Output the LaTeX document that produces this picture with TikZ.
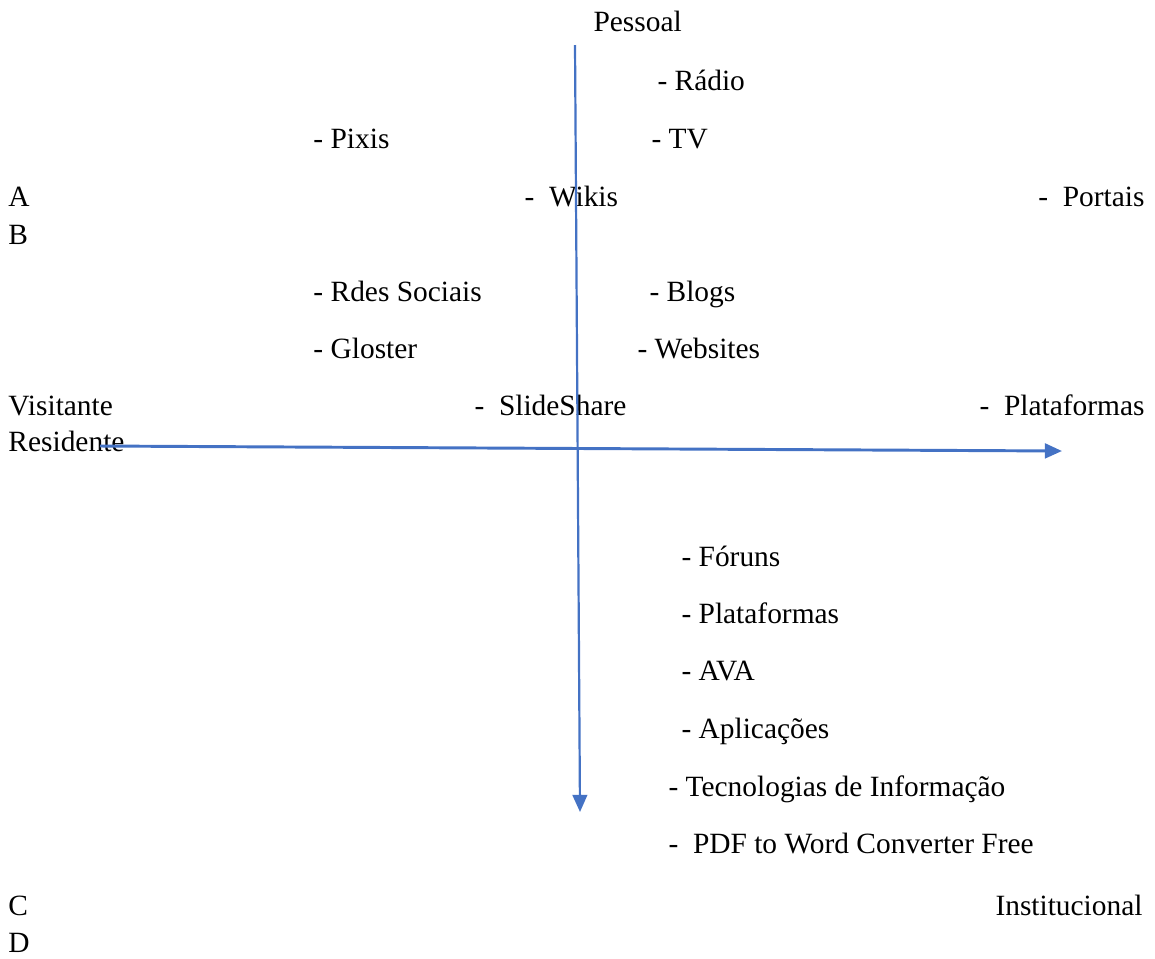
\documentclass[tikz,border=0pt]{standalone}
\usepackage{fontspec}
\setmainfont{Liberation Serif}
\usetikzlibrary{arrows.meta}
\definecolor{axisblue}{RGB}{68,114,196}
\begin{document}
\begin{tikzpicture}[x=0.408pt,y=-0.408pt,
  lbl/.style={anchor=base west,inner sep=0pt,font=\fontsize{12}{14}\selectfont},
  rlbl/.style={lbl,anchor=base east},
  axis/.style={axisblue,line width=0.9pt,-{Triangle[length=7pt,width=6pt]}}]
\useasboundingbox (0,0) rectangle (1155,958);
% labels, upper half
\node[lbl] (pessoal) at (593,31) {Pessoal};
\node[lbl] (radio) at (657,90) {- Rádio};
\node[lbl] (pixis) at (313,148) {- Pixis};
\node[lbl] (tv) at (651,148) {- TV};
\node[lbl] (a) at (8,206) {A};
\node[lbl] (wikis) at (524,206) {-\enspace Wikis};
\node[rlbl] (portais) at (1145,206) {-\enspace Portais};
\node[lbl] (b) at (8,244) {B};
\node[lbl] (redes) at (313,301) {- Rdes Sociais};
\node[lbl] (blogs) at (649,301) {- Blogs};
\node[lbl] (gloster) at (313,358) {- Gloster};
\node[lbl] (websites) at (637,358) {- Websites};
\node[lbl] (visitante) at (8,415) {Visitante};
\node[lbl] (slideshare) at (474,415) {-\enspace SlideShare};
\node[rlbl] (plataformas) at (1145,415) {-\enspace Plataformas};
\node[lbl] (residente) at (8,451) {Residente};
% labels, lower half
\node[lbl] (foruns) at (681,566) {- Fóruns};
\node[lbl] (plat) at (681,623) {- Plataformas};
\node[lbl] (ava) at (681,680) {- AVA};
\node[lbl] (aplic) at (681,738) {- Aplicações};
\node[lbl] (tecno) at (668,796) {- Tecnologias de Informação};
\node[lbl] (pdf) at (668,853) {-\enspace PDF to Word Converter Free};
\node[lbl] (c) at (8,915) {C};
\node[rlbl] (instit) at (1143,915) {Institucional};
\node[lbl] (d) at (8,952) {D};
% axes
\coordinate (ytop) at (575,45);
\coordinate (ybot) at (580,812);
\coordinate (xleft) at (100,446);
\coordinate (xright) at (1062,451);
\draw[axis] (ytop) -- (ybot);
\draw[axis,line width=1.2pt] (xleft) -- (xright);
\end{tikzpicture}
\end{document}
